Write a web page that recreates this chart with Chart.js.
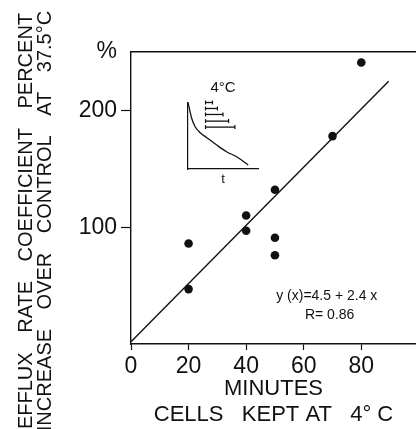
<!DOCTYPE html>
<html>
<head>
<meta charset="utf-8">
<script src="https://cdn.jsdelivr.net/npm/chart.js@4"></script>
<style>
  html, body { margin: 0; padding: 0; background: #fff; }
  #wrap { position: relative; width: 416px; height: 429px; }
  #main { position: absolute; left: 0; top: 0; }
  #inset { position: absolute; left: 178px; top: 76px; }
</style>
</head>
<body>
<div id="wrap">
  <canvas id="main" width="416" height="429"></canvas>
  <canvas id="inset" width="86" height="112"></canvas>
</div>
<script>
// main plot: minutes at 4°C vs % increase of efflux rate coefficient
const minutes = [20, 20, 40, 40, 50, 50, 50, 70, 80];
const percentIncrease = [86, 47, 110, 97, 132, 91, 76, 178, 241];
const fitMinutes = [0, 89.5];
const fitPercent = [2, 225];
const xTicks = [0, 20, 40, 60, 80];
const yTicks = [100, 200];
const yUnit = '%';

// inset: decay curve and the cold intervals
const decayTime = [0, 0.3, 0.5, 1, 1.7, 2.7, 4.1, 5.5, 7, 8.6];
const decayLevel = [10, 8.6, 7.7, 6.4, 5.5, 4.7, 3.6, 2.6, 1.8, 0.6];
const intervalStart = [2.5, 2.5, 2.5, 2.5, 2.5];
const intervalEnd = [3.5, 4.2, 5.0, 5.8, 6.7];
const intervalLevel = [10, 9.1, 8.2, 7.2, 6.3];

const ink = '#111';
const fam = '"Liberation Sans", Arial, sans-serif';
Chart.defaults.font.family = fam;
Chart.defaults.color = ink;

const yMax = 250;

const textPlugin = {
    id: 'extraText',
    afterDraw(chart) {
        const ctx = chart.ctx;
        const x = chart.scales.x;
        const y = chart.scales.y;
        ctx.save();
        ctx.fillStyle = ink;
        ctx.textAlign = 'center';
        ctx.textBaseline = 'middle';

        // rotated y title, two lines
        ctx.font = '20px ' + fam;
        if ('wordSpacing' in ctx) ctx.wordSpacing = '14px';
        const yTitle = ['EFFLUX RATE COEFFICIENT PERCENT', 'INCREASE OVER CONTROL AT 37.5°C'];
        const yTitleX = [26, 45];
        for (let i = 0; i < yTitle.length; i++) {
            ctx.save();
            ctx.translate(yTitleX[i], 221);
            ctx.rotate(-Math.PI / 2);
            ctx.fillText(yTitle[i], 0, 0);
            ctx.restore();
        }
        if ('wordSpacing' in ctx) ctx.wordSpacing = '0px';

        // fit equation
        ctx.font = '14px ' + fam;
        ctx.fillText('y (x)=4.5 + 2.4 x', x.getPixelForValue(68), y.getPixelForValue(41));
        ctx.fillText('R= 0.86', x.getPixelForValue(69), y.getPixelForValue(25));
        ctx.restore();
    }
};

function noSidePadding(s) {
    s.paddingLeft = 0;
    s.paddingRight = 0;
}

const mainChart = new Chart(document.getElementById('main'), {
    type: 'scatter',
    data: {
        datasets: [
            {
                type: 'line',
                data: fitMinutes.map((m, i) => ({x: m, y: fitPercent[i]})),
                borderColor: ink,
                borderWidth: 1.4,
                pointRadius: 0,
                fill: false
            },
            {
                data: minutes.map((m, i) => ({x: m, y: percentIncrease[i]})),
                backgroundColor: ink,
                borderColor: ink,
                borderWidth: 0,
                pointRadius: 4.3
            }
        ]
    },
    options: {
        responsive: false,
        animation: false,
        layout: {padding: 0, autoPadding: false},
        plugins: {
            legend: {display: false},
            tooltip: {enabled: false}
        },
        scales: {
            x: {
                type: 'linear',
                position: 'bottom',
                min: 0,
                max: 99,
                afterBuildTicks: s => { s.ticks = xTicks.map(v => ({value: v})); },
                afterFit: s => { s.height = 85; noSidePadding(s); },
                grid: {drawOnChartArea: false, tickLength: 6, tickColor: ink, tickWidth: 1.2},
                border: {color: ink, width: 1.4},
                ticks: {color: ink, padding: 3, maxRotation: 0, font: {size: 23}},
                title: {
                    display: true,
                    text: ['MINUTES', 'CELLS   KEPT AT   4° C'],
                    color: ink,
                    font: {size: 22, lineHeight: 1.14},
                    padding: {top: 0, bottom: 2}
                }
            },
            xTop: {
                type: 'linear',
                position: 'top',
                min: 0,
                max: 99,
                afterFit: s => { s.height = 52; noSidePadding(s); },
                ticks: {display: false},
                grid: {display: false},
                border: {color: ink, width: 1.4}
            },
            y: {
                min: 0,
                max: yMax,
                afterBuildTicks: s => { s.ticks = yTicks.concat([yMax]).map(v => ({value: v})); },
                afterFit: s => { s.width = 131; },
                grid: {
                    drawOnChartArea: false,
                    tickLength: 10,
                    tickWidth: 1.2,
                    tickColor: c => (c.tick && c.tick.value === yMax) ? 'rgba(0,0,0,0)' : ink
                },
                border: {color: ink, width: 1.4},
                ticks: {
                    color: ink,
                    padding: 4,
                    font: {size: 23},
                    callback: v => v === yMax ? yUnit : v
                }
            }
        }
    },
    plugins: [textPlugin]
});

const insetSets = [{
    type: 'line',
    data: decayTime.map((t, i) => ({x: t, y: decayLevel[i]})),
    borderColor: ink,
    borderWidth: 1.3,
    pointRadius: 0,
    cubicInterpolationMode: 'monotone',
    clip: false
}];
for (let i = 0; i < intervalEnd.length; i++) {
    insetSets.push({
        type: 'line',
        data: [{x: intervalStart[i], y: intervalLevel[i]}, {x: intervalEnd[i], y: intervalLevel[i]}],
        borderColor: ink,
        borderWidth: 1.3,
        pointStyle: 'line',
        rotation: 90,
        pointRadius: 2,
        pointBorderWidth: 1.2,
        pointBorderColor: ink,
        clip: false
    });
}

const insetChart = new Chart(document.getElementById('inset'), {
    type: 'scatter',
    data: {datasets: insetSets},
    options: {
        responsive: false,
        animation: false,
        layout: {padding: {left: 10, right: 6, top: 0, bottom: 0}, autoPadding: false},
        plugins: {
            legend: {display: false},
            tooltip: {enabled: false},
            title: {
                display: true,
                text: '4°C',
                color: ink,
                font: {size: 15, weight: 'normal', lineHeight: 1.1},
                padding: {top: 4, bottom: 6}
            }
        },
        scales: {
            x: {
                min: 0,
                max: 10,
                afterFit: s => { s.height = 19; noSidePadding(s); },
                ticks: {display: false},
                grid: {display: false},
                border: {color: ink, width: 1.2},
                title: {display: true, text: 't', color: ink, font: {size: 13}, padding: {top: 0, bottom: 1}}
            },
            y: {
                min: 0,
                max: 10,
                afterFit: s => { s.width = 0; },
                ticks: {display: false},
                grid: {display: false},
                border: {color: ink, width: 1.2}
            }
        }
    }
});
</script>
</body>
</html>
